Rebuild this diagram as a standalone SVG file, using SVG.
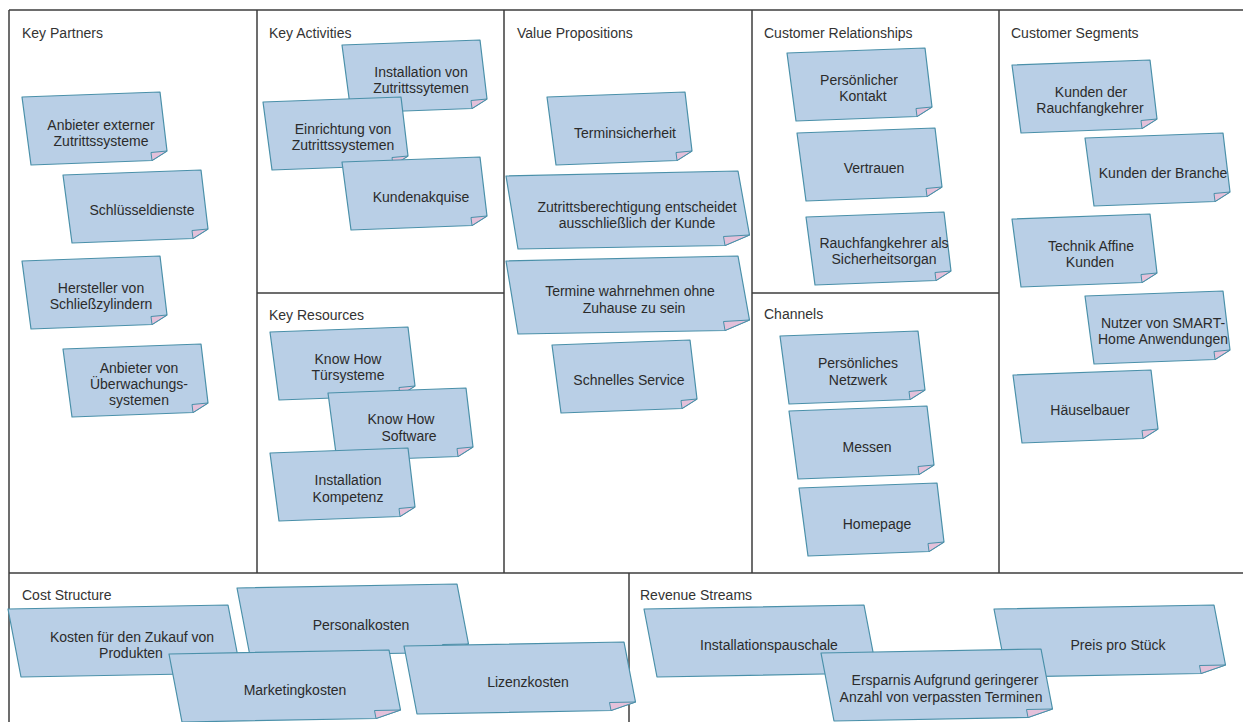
<svg xmlns="http://www.w3.org/2000/svg" width="1243" height="722" viewBox="0 0 1243 722">
  <style>
    .grid { stroke: #3d3d3d; stroke-width: 1.5; fill: none; }
    .title { font-family: "Liberation Sans", Arial, sans-serif; font-size: 14px; fill: #333333; }
    .txt { font-family: "Liberation Sans", Arial, sans-serif; font-size: 14px; fill: #2b2b2b; text-anchor: middle; }
  </style>
  <defs>
    <!-- standard sticky note, origin at top-left corner -->
    <g id="note">
      <polygon points="0,0 138,-5 145,54 130,63.5 9,68" fill="#b9cfe6" stroke="#4a90a9" stroke-width="1.2" stroke-linejoin="round"/>
      <polygon points="145,54 130,63.5 129,55.5" fill="#e3c1da" stroke="#4a90a9" stroke-width="1" stroke-linejoin="round"/>
    </g>
    <!-- wide sticky note (value propositions) -->
    <g id="noteWide">
      <polygon points="0,0 232,-5 243.5,59 219,69.5 12,73" fill="#b9cfe6" stroke="#4a90a9" stroke-width="1.2" stroke-linejoin="round"/>
      <polygon points="243.5,59 219,69.5 217.5,60.5" fill="#e3c1da" stroke="#4a90a9" stroke-width="1" stroke-linejoin="round"/>
    </g>
    <!-- long sticky note (costs and revenues) -->
    <g id="noteLong">
      <polygon points="0,0 220,-4 231.5,56 207,64.5 13,68" fill="#b9cfe6" stroke="#4a90a9" stroke-width="1.2" stroke-linejoin="round"/>
      <polygon points="231.5,56 207,64.5 205.5,56.5" fill="#e3c1da" stroke="#4a90a9" stroke-width="1" stroke-linejoin="round"/>
    </g>
  </defs>

  <rect x="0" y="0" width="1243" height="722" fill="#ffffff"/>

  <!-- canvas grid -->
  <g id="grid" class="grid">
    <line x1="9" y1="10" x2="1243" y2="10"/>
    <line x1="9" y1="10" x2="9" y2="722"/>
    <line x1="257" y1="10" x2="257" y2="573"/>
    <line x1="504" y1="10" x2="504" y2="573"/>
    <line x1="752" y1="10" x2="752" y2="573"/>
    <line x1="999" y1="10" x2="999" y2="573"/>
    <line x1="257" y1="293" x2="504" y2="293"/>
    <line x1="752" y1="293" x2="999" y2="293"/>
    <line x1="9" y1="573" x2="1243" y2="573"/>
    <line x1="629" y1="573" x2="629" y2="722"/>
  </g>

  <!-- section titles -->
  <g id="titles" class="title">
    <text x="22" y="38">Key Partners</text>
    <text x="269" y="38">Key Activities</text>
    <text x="517" y="38">Value Propositions</text>
    <text x="764" y="38">Customer Relationships</text>
    <text x="1011" y="38">Customer Segments</text>
    <text x="269" y="320">Key Resources</text>
    <text x="764" y="319">Channels</text>
    <text x="22" y="600">Cost Structure</text>
    <text x="640" y="600">Revenue Streams</text>
  </g>

  <!-- Key Partners -->
  <g id="kp-anbieter-zutritt">
    <use href="#note" x="22" y="97"/>
    <text class="txt"><tspan x="101" y="130">Anbieter externer</tspan><tspan x="101" y="146">Zutrittssysteme</tspan></text>
  </g>
  <g id="kp-schluesseldienste">
    <use href="#note" x="63" y="175"/>
    <text class="txt" x="142" y="215">Schlüsseldienste</text>
  </g>
  <g id="kp-hersteller">
    <use href="#note" x="22" y="261"/>
    <text class="txt"><tspan x="101" y="293">Hersteller von</tspan><tspan x="101" y="309">Schließzylindern</tspan></text>
  </g>
  <g id="kp-ueberwachung">
    <use href="#note" x="63" y="349"/>
    <text class="txt"><tspan x="139" y="373">Anbieter von</tspan><tspan x="139" y="389">Überwachungs-</tspan><tspan x="139" y="405">systemen</tspan></text>
  </g>

  <!-- Key Activities -->
  <g id="ka-installation">
    <use href="#note" x="342" y="45"/>
    <text class="txt"><tspan x="421" y="77">Installation von</tspan><tspan x="421" y="93">Zutrittssytemen</tspan></text>
  </g>
  <g id="ka-einrichtung">
    <use href="#note" x="263" y="102"/>
    <text class="txt"><tspan x="343" y="134">Einrichtung von</tspan><tspan x="343" y="150">Zutrittssystemen</tspan></text>
  </g>
  <g id="ka-kundenakquise">
    <use href="#note" x="342" y="162"/>
    <text class="txt" x="421" y="202">Kundenakquise</text>
  </g>

  <!-- Key Resources -->
  <g id="kr-tuersysteme">
    <use href="#note" x="270" y="332"/>
    <text class="txt"><tspan x="348" y="364">Know How</tspan><tspan x="348" y="380">Türsysteme</tspan></text>
  </g>
  <g id="kr-software">
    <use href="#note" x="328" y="393"/>
    <text class="txt"><tspan x="401" y="424">Know How</tspan><tspan x="409" y="441">Software</tspan></text>
  </g>
  <g id="kr-kompetenz">
    <use href="#note" x="270" y="453"/>
    <text class="txt"><tspan x="348" y="485">Installation</tspan><tspan x="348" y="502">Kompetenz</tspan></text>
  </g>

  <!-- Value Propositions -->
  <g id="vp-terminsicherheit">
    <use href="#note" x="547" y="97"/>
    <text class="txt" x="625" y="138">Terminsicherheit</text>
  </g>
  <g id="vp-zutrittsberechtigung">
    <use href="#noteWide" x="506" y="176"/>
    <text class="txt"><tspan x="637" y="212">Zutrittsberechtigung entscheidet</tspan><tspan x="637" y="228">ausschließlich der Kunde</tspan></text>
  </g>
  <g id="vp-termine">
    <use href="#noteWide" x="506" y="261"/>
    <text class="txt"><tspan x="630" y="296">Termine wahrnehmen ohne</tspan><tspan x="634" y="313">Zuhause zu sein</tspan></text>
  </g>
  <g id="vp-service">
    <use href="#note" x="552" y="345"/>
    <text class="txt" x="629" y="385">Schnelles Service</text>
  </g>

  <!-- Customer Relationships -->
  <g id="cr-kontakt">
    <use href="#note" x="787" y="53"/>
    <text class="txt"><tspan x="859" y="85">Persönlicher</tspan><tspan x="863" y="101">Kontakt</tspan></text>
  </g>
  <g id="cr-vertrauen">
    <use href="#note" x="797" y="133"/>
    <text class="txt" x="874" y="173">Vertrauen</text>
  </g>
  <g id="cr-sicherheitsorgan">
    <use href="#note" x="806" y="217"/>
    <text class="txt"><tspan x="884" y="248">Rauchfangkehrer als</tspan><tspan x="884" y="264">Sicherheitsorgan</tspan></text>
  </g>

  <!-- Channels -->
  <g id="ch-netzwerk">
    <use href="#note" x="780" y="336"/>
    <text class="txt"><tspan x="858" y="368">Persönliches</tspan><tspan x="858" y="385">Netzwerk</tspan></text>
  </g>
  <g id="ch-messen">
    <use href="#note" x="789" y="411"/>
    <text class="txt" x="867" y="452">Messen</text>
  </g>
  <g id="ch-homepage">
    <use href="#note" x="799" y="488"/>
    <text class="txt" x="877" y="529">Homepage</text>
  </g>

  <!-- Customer Segments -->
  <g id="cs-rauchfangkehrer">
    <use href="#note" x="1012" y="65"/>
    <text class="txt"><tspan x="1091" y="97">Kunden der</tspan><tspan x="1090" y="113">Rauchfangkehrer</tspan></text>
  </g>
  <g id="cs-branche">
    <use href="#note" x="1085" y="138"/>
    <text class="txt" x="1163" y="178">Kunden der Branche</text>
  </g>
  <g id="cs-technik">
    <use href="#note" x="1012" y="219"/>
    <text class="txt"><tspan x="1091" y="251">Technik Affine</tspan><tspan x="1090" y="267">Kunden</tspan></text>
  </g>
  <g id="cs-smarthome">
    <use href="#note" x="1085" y="296"/>
    <text class="txt"><tspan x="1163" y="328">Nutzer von SMART-</tspan><tspan x="1163" y="344">Home Anwendungen</tspan></text>
  </g>
  <g id="cs-haeuselbauer">
    <use href="#note" x="1013" y="375"/>
    <text class="txt" x="1090" y="415">Häuselbauer</text>
  </g>

  <!-- Cost Structure -->
  <g id="cost-zukauf">
    <use href="#noteLong" x="8" y="609"/>
    <text class="txt"><tspan x="132" y="642">Kosten für den Zukauf von</tspan><tspan x="131" y="658">Produkten</tspan></text>
  </g>
  <g id="cost-personal">
    <use href="#noteLong" x="237" y="588"/>
    <text class="txt" x="361" y="630">Personalkosten</text>
  </g>
  <g id="cost-marketing">
    <use href="#noteLong" x="169" y="654"/>
    <text class="txt" x="295" y="695">Marketingkosten</text>
  </g>
  <g id="cost-lizenz">
    <use href="#noteLong" x="404" y="646"/>
    <text class="txt" x="528" y="687">Lizenzkosten</text>
  </g>

  <!-- Revenue Streams -->
  <g id="rev-pauschale">
    <use href="#noteLong" x="644" y="609"/>
    <text class="txt" x="769" y="650">Installationspauschale</text>
  </g>
  <g id="rev-preis">
    <use href="#noteLong" x="994" y="609"/>
    <text class="txt" x="1118" y="650">Preis pro Stück</text>
  </g>
  <g id="rev-ersparnis">
    <use href="#noteLong" x="821" y="653"/>
    <text class="txt"><tspan x="945" y="685">Ersparnis Aufgrund geringerer</tspan><tspan x="941" y="702">Anzahl von verpassten Terminen</tspan></text>
  </g>
</svg>
